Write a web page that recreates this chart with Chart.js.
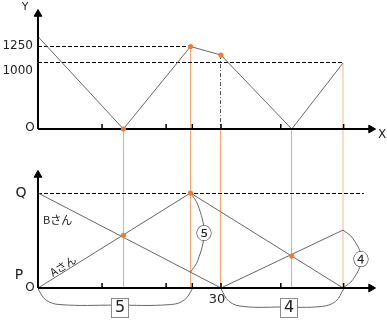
<!DOCTYPE html>
<html>
<head>
<meta charset="utf-8">
<script src="https://cdn.jsdelivr.net/npm/chart.js@4.4.1/dist/chart.umd.min.js"></script>
<style>
    html, body { margin: 0; padding: 0; background: #fff; }
    #wrap { position: relative; width: 387px; height: 322px; }
    canvas { position: absolute; left: 0; }
</style>
</head>
<body>
<div id="wrap">
    <canvas id="topChart" width="387" height="150" style="top:0"></canvas>
    <canvas id="bottomChart" width="387" height="172" style="top:150px"></canvas>
</div>
<script>
// ---- data (time in minutes) ----
const tickTimes = [10.5, 21, 25.3, 30, 39.8, 50.1];
const tickLabel30 = 30;

// top: distance Y between A and B
const gapTimes = [0, 14, 25, 30, 41.6, 50];
const gapValues = [1400, 0, 1250, 1120, 0, 1000];
const gapLevels = [1250, 1000];
const gapLevelEnds = [25, 50];

// bottom: position between P (0) and Q (1)
const aTimes = [0, 25, 50];
const aPos = [0, 1, 0];
const bTimes = [0, 30, 50];
const bPos = [1, 0, 0.61];
const meetTimes = [14, 41.6];
const meetPos = [0.555, 0.336];
const ratioBoxes = ['5', '4'];
const ratioCircles = ['⑤', '④'];

// ---- layout ----
const W = 387, originX = 38, pxPerMin = 6.1;
const xMin = -originX / pxPerMin, xMax = (W - originX) / pxPerMin;
const xAxisEnd = 54.6;

const topH = 150, topAxis = 129, pxPerM = 0.066;
const topMax = topAxis / pxPerM, topMin = -(topH - topAxis) / pxPerM;
const topYTip = 1742;

const botH = 172, botAxis = 138, pxPerUnit = 95;
const botMax = botAxis / pxPerUnit, botMin = -(botH - botAxis) / pxPerUnit;
const botYTip = 1.19;

const GREY = '#676767', ORANGE = '#f7a676', PEACH = '#fcdcc6', DOT = '#f47b2e';
const FONT = '"DejaVu Sans", Verdana, sans-serif';
const JFONT = '"Noto Sans CJK JP", sans-serif';

const lerp = (xs, ys, t) => {
    for (let i = 0; i < xs.length - 1; i++) {
        if (t >= xs[i] && t <= xs[i + 1]) return ys[i] + (ys[i + 1] - ys[i]) * (t - xs[i]) / (xs[i + 1] - xs[i]);
    }
    return ys[ys.length - 1];
};

const line = (pts, color, width, dash, tension, snap) => ({
    data: pts.map(p => ({ x: p[0], y: p[1] })),
    showLine: true,
    borderColor: color,
    borderWidth: width,
    borderDash: dash || [],
    pointRadius: 0,
    tension: tension || 0,
    clip: false,
    snap: snap
});
const vline = (x, y1, y2, color, width, dash) => line([[x, y1], [x, y2]], color, width || 1, dash, 0, 'x');
const hline = (y, x1, x2, color, width, dash) => line([[x1, y], [x2, y]], color, width || 1, dash, 0, 'y');

const arrow = (x, y, rot) => ({
    data: [{ x: x, y: y }],
    pointStyle: 'triangle',
    pointRadius: 4.5,
    pointRotation: rot,
    pointBackgroundColor: '#000',
    pointBorderColor: '#000',
    pointBorderWidth: 1,
    clip: false
});

const dots = (pts) => ({
    data: pts.map(p => ({ x: p[0], y: p[1] })),
    pointRadius: 2.6,
    pointBackgroundColor: DOT,
    pointBorderWidth: 0,
    clip: false
});

const ticks = (h) => {
    const pts = [];
    tickTimes.forEach(t => { pts.push([t, 0], [t, h], [t, null]); });
    return line(pts, '#000', 1.5);
};

// vertical curved bracket from (x, y1) to (x, y2) bulging by b
const sideBrace = (x, y1, y2, b) => {
    const d = y2 - y1;
    return [[x, y1], [x + 0.55 * b, y1 + 0.15 * d], [x + b, y1 + 0.5 * d], [x + 0.55 * b, y1 + 0.85 * d], [x, y2]];
};
// horizontal bracket under the axis from x1 to x2
const underBrace = (x1, x2, depth) => {
    const m = (x1 + x2) / 2;
    return [[x1, -0.01], [x1 + 1.3, -0.7 * depth], [x1 + 3.6, -0.97 * depth], [m, -depth],
            [x2 - 3.6, -0.97 * depth], [x2 - 1.3, -0.7 * depth], [x2, -0.01]];
};

// keep thin straight rules on the pixel grid
const snapPlugin = {
    id: 'snap',
    beforeDatasetDraw(chart, args) {
        const ds = chart.data.datasets[args.index];
        if (!ds.snap) return;
        const p = args.meta.data[0];
        const odd = Math.round(ds.borderWidth) % 2 === 1;
        const ctx = chart.ctx;
        ctx.save();
        if (ds.snap === 'x') {
            const target = odd ? Math.floor(p.x) + 0.5 : Math.round(p.x);
            ctx.translate(target - p.x, 0);
        } else {
            const target = odd ? Math.floor(p.y) + 0.5 : Math.round(p.y);
            ctx.translate(0, target - p.y);
        }
    },
    afterDatasetDraw(chart, args) {
        if (chart.data.datasets[args.index].snap) chart.ctx.restore();
    }
};

const notesPlugin = {
    id: 'notes',
    afterDatasetsDraw(chart, args, opts) {
        const { ctx } = chart;
        const sx = chart.scales.x, sy = chart.scales.y;
        (opts.items || []).forEach(it => {
            const px = sx.getPixelForValue(it.x) + (it.dx || 0);
            const py = sy.getPixelForValue(it.y) + (it.dy || 0);
            ctx.save();
            ctx.translate(Math.round(px), Math.round(py));
            if (it.rot) ctx.rotate(it.rot * Math.PI / 180);
            if (it.box) {
                ctx.fillStyle = '#fff';
                ctx.fillRect(-9, -10, 18, 20);
                ctx.strokeStyle = '#8a8a8a';
                ctx.lineWidth = 1;
                ctx.strokeRect(-8.5, -9.5, 17, 19);
            }
            if (it.disc) {
                ctx.fillStyle = '#fff';
                ctx.beginPath();
                ctx.arc(0, 0, 7.5, 0, Math.PI * 2);
                ctx.fill();
            }
            ctx.font = it.font;
            ctx.fillStyle = it.color || '#222';
            ctx.textAlign = it.align || 'center';
            ctx.textBaseline = 'middle';
            ctx.fillText(it.text, it.ox || 0, it.oy || 0);
            ctx.restore();
        });
    }
};

const baseOptions = (yMin, yMax, items) => ({
    responsive: false,
    animation: false,
    devicePixelRatio: 1,
    layout: { padding: 0, autoPadding: false },
    scales: {
        x: { type: 'linear', display: false, min: xMin, max: xMax },
        y: { type: 'linear', display: false, min: yMin, max: yMax }
    },
    plugins: {
        legend: { display: false },
        tooltip: { enabled: false },
        notes: { items: items }
    }
});

// ---- top chart ----
const topDots = [1, 2, 3].map(i => [gapTimes[i], gapValues[i]]);
const topDatasets = [
    dots(topDots),
    arrow(0, topYTip, 0),
    arrow(xAxisEnd, 0, 90),
    line([[0, 0], [0, topYTip]], '#000', 2),
    line([[0, 0], [xAxisEnd, 0]], '#000', 2),
    ticks(5 / pxPerM),
    line(gapTimes.map((t, i) => [t, gapValues[i]]), GREY, 1),
    hline(gapLevels[0], 0, gapLevelEnds[0], '#000', 1, [4, 2]),
    hline(gapLevels[1], 0, gapLevelEnds[1], '#000', 1, [4, 2]),
    vline(gapTimes[3], gapValues[3], 0, '#555', 1, [4, 2, 1, 2]),
    vline(gapTimes[1], 0, topMin, ORANGE),
    vline(gapTimes[2], gapValues[2], topMin, ORANGE),
    vline(gapTimes[3], 0, topMin, ORANGE),
    vline(gapTimes[4], 0, topMin, ORANGE),
    vline(gapTimes[5], gapValues[5], topMin, PEACH, 2)
];
const topItems = [
    { text: 'Y', x: 0, y: topYTip, dx: -13, dy: -7, font: '11px ' + FONT },
    { text: '1250', x: 0, y: gapLevels[0], dx: -5, dy: 0, align: 'right', font: '12px ' + FONT },
    { text: '1000', x: 0, y: gapLevels[1], dx: -5, dy: 8, align: 'right', font: '12px ' + FONT },
    { text: 'O', x: 0, y: 0, dx: -8, dy: -1, font: '12px ' + FONT },
    { text: 'X', x: xAxisEnd, y: 0, dx: 11, dy: 6, font: '12px ' + FONT }
];
new Chart(document.getElementById('topChart'), {
    type: 'scatter',
    data: { datasets: topDatasets },
    options: baseOptions(topMin, topMax, topItems),
    plugins: [snapPlugin, notesPlugin]
});

// ---- bottom chart ----
const bAtTurn = lerp(bTimes, bPos, aTimes[1]);
const botDots = [[meetTimes[0], meetPos[0]], [aTimes[1], aPos[1]], [meetTimes[1], meetPos[1]]];
const botDatasets = [
    dots(botDots),
    arrow(0, botYTip, 0),
    arrow(xAxisEnd, 0, 90),
    line([[0, 0], [0, botYTip]], '#000', 2),
    line([[0, 0], [xAxisEnd, 0]], '#000', 2),
    ticks(5 / pxPerUnit),
    line(aTimes.map((t, i) => [t, aPos[i]]), GREY, 1),
    line(bTimes.map((t, i) => [t, bPos[i]]), GREY, 1),
    hline(1, 0, 53.4, '#000', 1, [4, 2]),
    line(sideBrace(aTimes[1], aPos[1], bAtTurn, 2.2), GREY, 1, [], 0.4),
    line(sideBrace(bTimes[2], bPos[2], 0, 3.0), GREY, 1, [], 0.4),
    line(underBrace(0, tickTimes[2], 0.18), GREY, 1, [], 0.4),
    line(underBrace(bTimes[1], tickTimes[5], 0.2), GREY, 1, [], 0.4),
    vline(meetTimes[0], botMax, 0, ORANGE),
    vline(aTimes[1], botMax, 0, ORANGE),
    vline(bTimes[1], botMax, 0, ORANGE),
    vline(meetTimes[1], botMax, 0, ORANGE),
    vline(bTimes[2], botMax, 0, PEACH, 2)
];
const botItems = [
    { text: 'Q', x: 0, y: 1, dx: -17, font: '14px ' + FONT },
    { text: 'P', x: 0, y: 0, dx: -19, dy: -13, font: '14px ' + FONT },
    { text: 'O', x: 0, y: 0, dx: -8, font: '12px ' + FONT },
    { text: String(tickLabel30), x: tickLabel30, y: 0, dx: -4, dy: 12, font: '13px ' + FONT },
    { text: 'Bさん', x: 0, y: 1, dx: 5, dy: 27, align: 'left', font: '11px ' + JFONT },
    { text: 'Aさん', x: 4.6, y: lerp(aTimes, aPos, 4.6), rot: -32, oy: -6, font: '11px ' + JFONT },
    { text: ratioBoxes[0], x: 13.5, y: -0.18, dx: 0, dy: 3, box: true, font: '16px ' + FONT },
    { text: ratioBoxes[1], x: 41.1, y: -0.2, dx: 0, dy: 1, box: true, font: '16px ' + FONT },
    { text: ratioCircles[0], x: aTimes[1] + 2.2, y: (aPos[1] + bAtTurn) / 2, disc: true, font: '16px ' + JFONT },
    { text: ratioCircles[1], x: bTimes[2] + 3.0, y: bPos[2] / 2, disc: true, font: '16px ' + JFONT }
];
new Chart(document.getElementById('bottomChart'), {
    type: 'scatter',
    data: { datasets: botDatasets },
    options: baseOptions(botMin, botMax, botItems),
    plugins: [snapPlugin, notesPlugin]
});
</script>
</body>
</html>
